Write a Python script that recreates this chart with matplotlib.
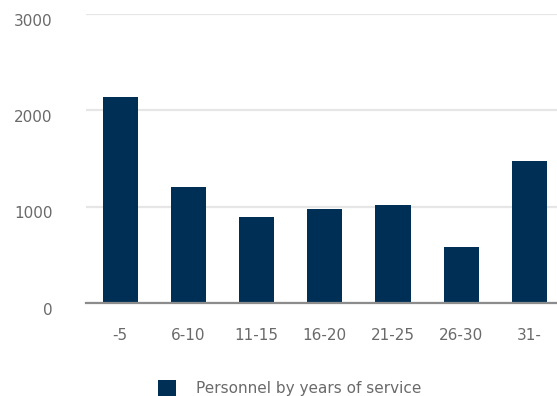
import matplotlib
matplotlib.use("Agg")
import matplotlib.pyplot as plt
import matplotlib.transforms as mtransforms

# years-of-service groups
categories = ["-5", "6-10", "11-15", "16-20", "21-25", "26-30", "31-"]
personnel = [2140, 1205, 893, 976, 1017, 581, 1474]
yticks = [0, 1000, 2000, 3000]

plt.rcParams['font.family'] = ['DejaVu Sans']

fig = plt.figure(figsize=(5.57, 3.96), dpi=100)
ax = fig.add_axes([86/557, 93/396, 477.5/557, 289/396])

ax.bar(range(len(categories)), personnel, width=0.515, color="#002f56",
       label="Personnel by years of service", zorder=3)

ax.set_xlim(-0.5, len(categories) - 0.5)
ax.set_ylim(0, 3000)
ax.set_yticks(yticks)
ax.set_xticks(range(len(categories)))
ax.set_xticklabels(categories)

for s in ["top", "right", "left"]:
    ax.spines[s].set_visible(False)
ax.spines["bottom"].set_color("#8c8c8c")
ax.spines["bottom"].set_linewidth(1.6)
ax.spines["bottom"].set_zorder(4)

ax.yaxis.grid(True, color="#e6e6e6", linewidth=1.6, zorder=0)
ax.tick_params(axis="both", length=0, labelcolor="#6a6a6a", labelsize=11)
ax.tick_params(axis="y", pad=24)
ax.tick_params(axis="x", pad=18)

# y labels sit a little below their gridlines
shift = mtransforms.ScaledTranslation(0, -4/72, fig.dpi_scale_trans)
for lbl in ax.get_yticklabels():
    lbl.set_transform(lbl.get_transform() + shift)

fig.legend(loc="center left", bbox_to_anchor=(158/557, 1 - 388/396),
           frameon=False, fontsize=11, labelcolor="#6a6a6a",
           handlelength=1.2, handleheight=1.2, handletextpad=1.3,
           borderpad=0, borderaxespad=0)

fig.savefig("out.png", dpi=100)
